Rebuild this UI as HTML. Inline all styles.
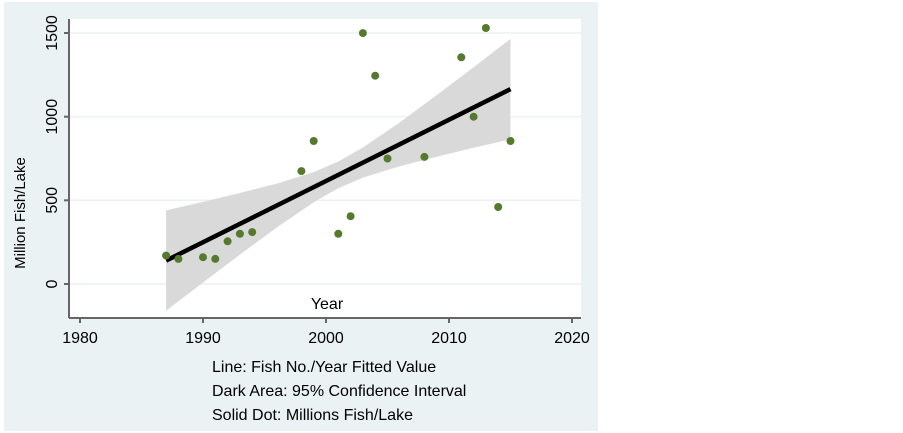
<!DOCTYPE html>
<html><head><style>body{margin:0;background:#fff;}svg{display:block;font-family:"Liberation Sans",sans-serif;}</style></head><body>
<svg width="903" height="433" viewBox="0 0 903 433">
<rect x="0" y="0" width="903" height="433" fill="#fff"/>
<rect x="4" y="2" width="594" height="429" fill="#eaf2f3"/>
<rect x="69" y="19" width="512" height="299" fill="#fff"/>
<g stroke="#eaf2f3" stroke-width="1.5">
<line x1="70" y1="284" x2="581" y2="284"/><line x1="70" y1="200.3" x2="581" y2="200.3"/><line x1="70" y1="116.7" x2="581" y2="116.7"/><line x1="70" y1="33" x2="581" y2="33"/>
</g>
<polygon fill="#d9d9d9" points="166.1,210.4 203,201.9 239.9,193 276.8,183.6 313.7,172.1 338.3,161.5 362.9,147.5 399.8,122.4 436.7,95.1 473.6,67.2 510.5,38.9 510.5,139.3 473.6,147.8 436.7,156.7 399.8,166.2 362.9,177.6 338.3,188.3 313.7,202.2 276.8,227.5 239.9,254.6 203,282.5 166.1,310.8"/>
<line x1="166.1" y1="260.6" x2="510.5" y2="89.1" stroke="#000" stroke-width="4.5"/>
<g fill="#557a2e">
<circle cx="166.1" cy="255.6" r="4"/><circle cx="178.4" cy="258.9" r="4"/><circle cx="203" cy="257.2" r="4"/><circle cx="215.3" cy="258.9" r="4"/><circle cx="227.6" cy="241.3" r="4"/><circle cx="239.9" cy="233.8" r="4"/><circle cx="252.2" cy="232.1" r="4"/><circle cx="301.4" cy="171.1" r="4"/><circle cx="313.7" cy="141" r="4"/><circle cx="338.3" cy="233.8" r="4"/><circle cx="350.6" cy="216.2" r="4"/><circle cx="362.9" cy="33.1" r="4"/><circle cx="375.2" cy="75.7" r="4"/><circle cx="387.5" cy="158.5" r="4"/><circle cx="424.4" cy="156.9" r="4"/><circle cx="461.3" cy="57.3" r="4"/><circle cx="473.6" cy="116.7" r="4"/><circle cx="485.9" cy="28" r="4"/><circle cx="498.2" cy="207" r="4"/><circle cx="510.5" cy="141" r="4"/>
</g>
<g stroke="#666" stroke-width="2">
<line x1="69" y1="19" x2="69" y2="318"/><line x1="69" y1="318" x2="581" y2="318"/>
<line x1="64" y1="284" x2="69" y2="284"/><line x1="64" y1="200.3" x2="69" y2="200.3"/><line x1="64" y1="116.7" x2="69" y2="116.7"/><line x1="64" y1="33" x2="69" y2="33"/>
<line x1="80" y1="318" x2="80" y2="323"/><line x1="203" y1="318" x2="203" y2="323"/><line x1="326" y1="318" x2="326" y2="323"/><line x1="449" y1="318" x2="449" y2="323"/><line x1="572" y1="318" x2="572" y2="323"/>
</g>
<g font-size="16" fill="#000" text-anchor="middle">
<text transform="translate(57,284) rotate(-90)">0</text>
<text transform="translate(57,200.3) rotate(-90)">500</text>
<text transform="translate(57,116.7) rotate(-90)">1000</text>
<text transform="translate(57,33) rotate(-90)">1500</text>
<text transform="translate(25,213) rotate(-90)" font-size="15">Million Fish/Lake</text>
<text x="80" y="343">1980</text><text x="203" y="343">1990</text><text x="326" y="343">2000</text><text x="449" y="343">2010</text><text x="572" y="343">2020</text>
<text x="327" y="309">Year</text>
</g>
<g font-size="16" fill="#000">
<text x="212" y="372">Line: Fish No./Year Fitted Value</text>
<text x="212" y="396">Dark Area: 95% Confidence Interval</text>
<text x="212" y="420">Solid Dot: Millions Fish/Lake</text>
</g>
</svg>
</body></html>
